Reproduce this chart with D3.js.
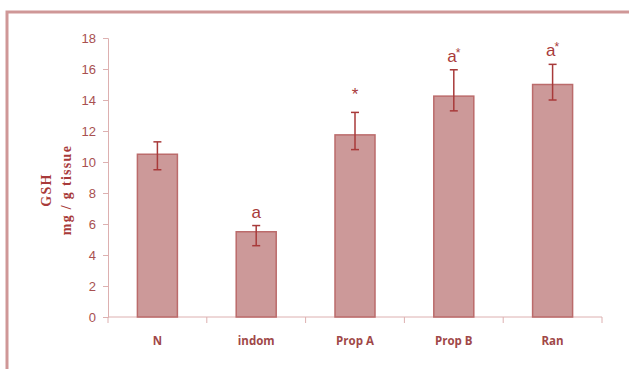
<!DOCTYPE html>
<html lang="en">
<head>
  <meta charset="UTF-8" />
  <title>GSH</title>
  <script src="https://cdnjs.cloudflare.com/ajax/libs/d3/7.8.5/d3.min.js"></script>
  <style>
    body { margin: 0; background: #fff; }
    svg { display: block; }
  </style>
</head>
<body>
  <svg id="chart" width="629" height="369"></svg>

  <script>
    const groups = ["N", "indom", "Prop A", "Prop B", "Ran"];
    const means = [10.5, 5.5, 11.75, 14.25, 15.0];
    const errHigh = [11.3, 5.9, 13.2, 15.95, 16.3];
    const errLow = [9.5, 4.6, 10.8, 13.3, 14.0];
    const marks = ["", "a", "*", "a*", "a*"];
    const yTicks = [0, 2, 4, 6, 8, 10, 12, 14, 16, 18];

    const svg = d3.select("#chart");
    const margin = { left: 108, top: 38, right: 27, bottom: 52 };
    const width = 629 - margin.left - margin.right;
    const height = 369 - margin.top - margin.bottom;

    // frame (only left and top show)
    svg.append("path")
      .attr("d", "M7,369 V12 H629")
      .attr("fill", "none")
      .attr("stroke", "#cf9797")
      .attr("stroke-width", 3);

    const g = svg.append("g").attr("transform", `translate(${margin.left},${margin.top})`);

    const x = d3.scaleBand().domain(groups).range([0, width]).padding(0);
    const y = d3.scaleLinear().domain([0, 18]).range([height, 0]);

    const barW = 40;

    // y axis
    const yAxis = g.append("g")
      .call(d3.axisLeft(y).tickValues(yTicks).tickSize(5).tickPadding(7));
    yAxis.select(".domain").attr("stroke", "#ddb0b0");
    yAxis.selectAll(".tick line").attr("stroke", "#ddb0b0");
    yAxis.selectAll("text")
      .attr("fill", "#a85050")
      .style("font-family", "'Liberation Sans', Arial, sans-serif")
      .style("font-size", "13px");

    // x axis with ticks between categories
    const xAxisG = g.append("g").attr("transform", `translate(0,${height})`);
    xAxisG.append("line")
      .attr("x1", 0).attr("x2", width)
      .attr("stroke", "#ddb0b0");
    const bounds = groups.map(d => x(d)).concat([width]);
    xAxisG.selectAll(".xt")
      .data(bounds)
      .enter().append("line")
      .attr("x1", d => d).attr("x2", d => d)
      .attr("y1", 0).attr("y2", 6)
      .attr("stroke", "#ddb0b0");
    xAxisG.selectAll(".xl")
      .data(groups)
      .enter().append("text")
      .attr("x", d => x(d) + x.bandwidth() / 2)
      .attr("y", 28)
      .attr("text-anchor", "middle")
      .attr("fill", "#a04848")
      .style("font-family", "'Open Sans', 'Liberation Sans', sans-serif")
      .style("font-weight", "bold")
      .style("font-size", "11.5px")
      .text(d => d);

    // bars
    g.selectAll(".bar")
      .data(groups)
      .enter().append("rect")
      .attr("x", d => x(d) + x.bandwidth() / 2 - barW / 2)
      .attr("width", barW)
      .attr("y", (d, i) => y(means[i]))
      .attr("height", (d, i) => height - y(means[i]))
      .attr("fill", "#cc9999")
      .attr("stroke", "#bb6b6b")
      .attr("stroke-width", 1.5);

    // error bars
    const eb = g.selectAll(".err")
      .data(groups)
      .enter().append("g")
      .attr("transform", d => `translate(${x(d) + x.bandwidth() / 2},0)`)
      .attr("stroke", "#a83a3a")
      .attr("stroke-width", 1.5);
    eb.append("line")
      .attr("y1", (d, i) => y(errHigh[i]))
      .attr("y2", (d, i) => y(errLow[i]));
    eb.append("line")
      .attr("x1", -4).attr("x2", 4)
      .attr("y1", (d, i) => y(errHigh[i]))
      .attr("y2", (d, i) => y(errHigh[i]));
    eb.append("line")
      .attr("x1", -4).attr("x2", 4)
      .attr("y1", (d, i) => y(errLow[i]))
      .attr("y2", (d, i) => y(errLow[i]));

    // significance marks
    g.selectAll(".mark")
      .data(groups)
      .enter().append("text")
      .attr("x", d => x(d) + x.bandwidth() / 2)
      .attr("y", (d, i) => y(errHigh[i]) - (marks[i] === "*" ? 12 : 8))
      .attr("text-anchor", "middle")
      .attr("fill", "#a83a3a")
      .style("font-family", "'Liberation Sans', Arial, sans-serif")
      .style("font-size", "17px")
      .each(function (d, i) {
        const t = d3.select(this);
        const m = marks[i];
        if (m.startsWith("a")) t.append("tspan").text("a");
        if (m.endsWith("*")) {
          t.append("tspan")
            .attr("dy", m.length > 1 ? -5 : 0)
            .attr("dx", m.length > 1 ? -1 : 0)
            .style("font-size", m.length > 1 ? "12px" : "17px")
            .text("*");
        }
      });

    // y title
    const yt = svg.append("text")
      .attr("transform", "translate(0,190) rotate(-90)")
      .attr("text-anchor", "middle")
      .attr("fill", "#a83a3a")
      .style("font-family", "'Liberation Serif', 'Times New Roman', serif")
      .style("font-weight", "bold")
      .style("font-size", "14px")
      .style("letter-spacing", "1.3px");
    yt.append("tspan").attr("x", 0).attr("y", 51).text("GSH");
    yt.append("tspan").attr("x", 0).attr("y", 71).text("mg / g tissue");
  </script>
</body>
</html>
